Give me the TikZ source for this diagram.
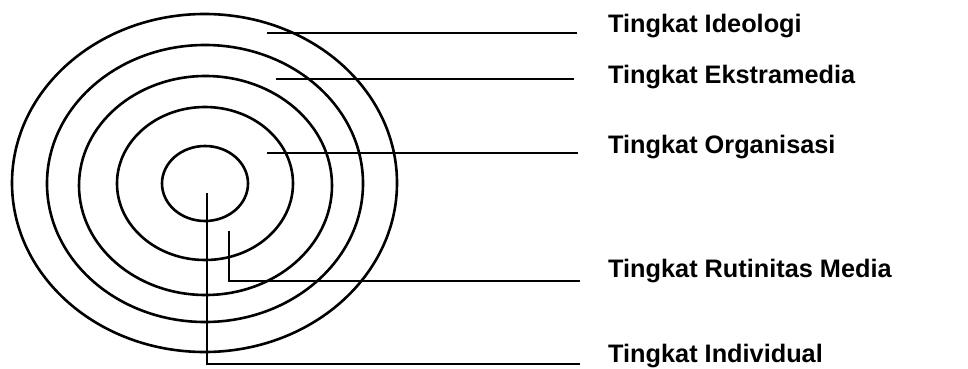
\documentclass[tikz,border=0pt]{standalone}
\usepackage{fontspec}
\setmainfont{Liberation Sans}
\begin{document}
\begin{tikzpicture}[x=1pt,y=-1pt,
  ring/.style={line width=2.6pt},
  leader/.style={line width=2.6pt},
  lbl/.style={anchor=base west,inner sep=0pt,font=\fontsize{25.3}{28}\selectfont\bfseries}]
\useasboundingbox (0,0) rectangle (968,369);
% rings
\draw[ring] (204.5,183) ellipse [x radius=192.5, y radius=169];
\draw[ring] (205,183.5) ellipse [x radius=158, y radius=138.5];
\draw[ring] (205.5,185.5) ellipse [x radius=126.5, y radius=109.5];
\draw[ring] (205,183.5) ellipse [x radius=88, y radius=76.5];
\draw[ring] (205,183.5) ellipse [x radius=43, y radius=37.5];
% labels
\node[lbl] (t1) at (608,33) {Tingkat Ideologi};
\node[lbl] (t2) at (608,83) {Tingkat Ekstramedia};
\node[lbl] (t3) at (608,153) {Tingkat Organisasi};
\node[lbl] (t4) at (608,277) {Tingkat Rutinitas Media};
\node[lbl] (t5) at (608,362) {Tingkat Individual};
% leader coordinates
\coordinate (s1) at (267,33);   \coordinate (e1) at (577,33);
\coordinate (s2) at (276,79);   \coordinate (e2) at (574,79);
\coordinate (s3) at (267,153);  \coordinate (e3) at (578,153);
\coordinate (s4) at (229,231);  \coordinate (k4) at (229,281); \coordinate (e4) at (580,281);
\coordinate (s5) at (207,193);  \coordinate (k5) at (207,364); \coordinate (e5) at (580,364);
\draw[leader] (s1) -- (e1);
\draw[leader] (s2) -- (e2);
\draw[leader] (s3) -- (e3);
\draw[leader] (s4) -- (k4) -- (e4);
\draw[leader] (s5) -- (k5) -- (e5);
\end{tikzpicture}
\end{document}
